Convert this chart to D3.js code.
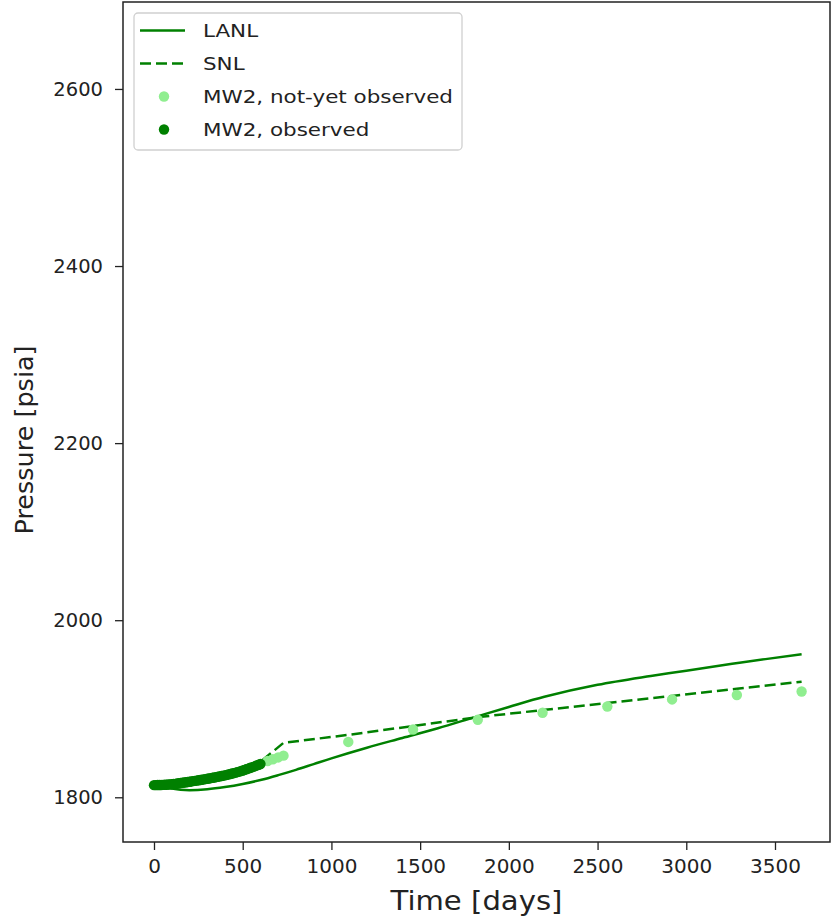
<!DOCTYPE html>
<html>
<head>
<meta charset="utf-8">
<script src="https://cdn.jsdelivr.net/npm/d3@7"></script>
<style>
  body { margin: 0; background: #fff; }
  text { font-family: "DejaVu Sans", sans-serif; fill: #222; }
</style>
</head>
<body>
<svg id="chart" width="832" height="923"></svg>
<script>
// LANL simulation (solid)
const lanlDays = [0, 50, 100, 150, 200, 300, 400, 500, 600, 700, 800, 900, 1000, 1200, 1400, 1600, 1800, 2000, 2200, 2500, 2800, 3000, 3300, 3650];
const lanlPsia = [1814, 1812, 1810, 1808.5, 1808, 1809, 1811.5, 1815, 1819.5, 1825, 1831, 1837.5, 1844, 1856, 1867, 1878, 1890, 1902, 1913.5, 1927, 1937, 1943, 1952, 1961.5];

// SNL simulation (dashed)
const snlDays = [0, 100, 200, 300, 400, 500, 600, 730, 1095, 1460, 1825, 2190, 2555, 2920, 3285, 3650];
const snlPsia = [1814, 1815.5, 1818.5, 1822, 1826, 1831, 1840, 1861.5, 1870.5, 1880.5, 1890.5, 1898.5, 1906.5, 1914.5, 1922.5, 1930.5];

// MW2 observed (dark dots)
const obsDays = [0, 10, 20, 30, 40, 50, 60, 70, 80, 90, 100, 110, 120, 130, 140, 150, 160, 170, 180, 190,
  200, 210, 220, 230, 240, 250, 260, 270, 280, 290, 300, 310, 320, 330, 340, 350, 360, 370, 380, 390,
  400, 410, 420, 430, 440, 450, 460, 470, 480, 490, 500, 510, 520, 530, 540, 550, 560, 570, 580, 590, 600];
const obsPsia = [1813.7, 1813.7, 1813.8, 1813.8, 1813.9, 1814.0, 1814.1, 1814.2, 1814.4, 1814.6,
  1814.8, 1815.0, 1815.2, 1815.5, 1815.8, 1816.1, 1816.4, 1816.7, 1817.0, 1817.3,
  1817.6, 1817.9, 1818.2, 1818.5, 1818.8, 1819.2, 1819.5, 1819.8, 1820.2, 1820.5,
  1820.9, 1821.2, 1821.6, 1822.0, 1822.4, 1822.8, 1823.2, 1823.6, 1824.0, 1824.4,
  1824.8, 1825.3, 1825.8, 1826.3, 1826.8, 1827.3, 1827.8, 1828.4, 1829.0, 1829.6,
  1830.2, 1830.9, 1831.6, 1832.3, 1833.0, 1833.7, 1834.4, 1835.2, 1836.0, 1836.8, 1837.6];

// MW2 not-yet observed (light dots)
const futDays = [640, 670, 700, 730, 1095, 1460, 1825, 2190, 2555, 2920, 3285, 3650];
const futPsia = [1841, 1843, 1845, 1847, 1862.5, 1876.5, 1887.5, 1895.5, 1902.5, 1910.5, 1915.5, 1919.5];

const xTicks = [0, 500, 1000, 1500, 2000, 2500, 3000, 3500];
const yTicks = [1800, 2000, 2200, 2400, 2600];

const legendLabels = ['LANL', 'SNL', 'MW2, not-yet observed', 'MW2, observed'];

const zip = (xs, ys) => xs.map((d, i) => ({ t: d, p: ys[i] }));

const svg = d3.select('#chart');
const margin = { top: 2, right: 2, bottom: 81, left: 123 };
const width = 832, height = 923;

const x = d3.scaleLinear()
  .domain([-174.7, 3810])
  .range([margin.left, width - margin.right]);

const y = d3.scaleLinear()
  .domain([1749.5, 2698.2])
  .range([height - margin.bottom, margin.top]);

const green = '#008000';
const light = '#90ee90';
const lw = 2.5;
const dash = '11,5';

// Clip to the axes area
svg.append('defs').append('clipPath')
  .attr('id', 'plot-area')
  .append('rect')
  .attr('x', margin.left)
  .attr('y', margin.top)
  .attr('width', width - margin.left - margin.right)
  .attr('height', height - margin.top - margin.bottom);

const plot = svg.append('g').attr('clip-path', 'url(#plot-area)');

plot.append('path')
  .datum(zip(lanlDays, lanlPsia))
  .attr('fill', 'none')
  .attr('stroke', green)
  .attr('stroke-width', lw)
  .attr('d', d3.line().x(d => x(d.t)).y(d => y(d.p)).curve(d3.curveCatmullRom.alpha(0.5)));

plot.append('path')
  .datum(zip(snlDays, snlPsia))
  .attr('fill', 'none')
  .attr('stroke', green)
  .attr('stroke-width', lw)
  .attr('stroke-dasharray', dash)
  .attr('d', d3.line().x(d => x(d.t)).y(d => y(d.p)));

plot.selectAll('circle.fut')
  .data(zip(futDays, futPsia))
  .join('circle')
  .attr('class', 'fut')
  .attr('cx', d => x(d.t))
  .attr('cy', d => y(d.p))
  .attr('r', 5.2)
  .attr('fill', light);

plot.selectAll('circle.obs')
  .data(zip(obsDays, obsPsia))
  .join('circle')
  .attr('class', 'obs')
  .attr('cx', d => x(d.t))
  .attr('cy', d => y(d.p))
  .attr('r', 5.2)
  .attr('fill', green);

// Axes
const xAxis = svg.append('g')
  .attr('transform', `translate(0,${height - margin.bottom})`)
  .call(d3.axisBottom(x).tickValues(xTicks).tickFormat(d3.format('d'))
    .tickSize(8).tickPadding(9).tickSizeOuter(0));
xAxis.select('.domain').remove();
xAxis.selectAll('line').attr('stroke', '#222').attr('stroke-width', 1.3);
xAxis.selectAll('text')
  .attr('font-size', 20)
  .attr('font-family', '"DejaVu Sans", sans-serif')
  .attr('fill', '#222');

const yAxis = svg.append('g')
  .attr('transform', `translate(${margin.left},0)`)
  .call(d3.axisLeft(y).tickValues(yTicks).tickFormat(d3.format('d'))
    .tickSize(8).tickPadding(12).tickSizeOuter(0));
yAxis.select('.domain').remove();
yAxis.selectAll('line').attr('stroke', '#222').attr('stroke-width', 1.3);
yAxis.selectAll('text')
  .attr('font-size', 19.5)
  .attr('font-family', '"DejaVu Sans", sans-serif')
  .attr('fill', '#222');

// Frame
svg.append('rect')
  .attr('x', margin.left)
  .attr('y', margin.top)
  .attr('width', width - margin.left - margin.right)
  .attr('height', height - margin.top - margin.bottom)
  .attr('fill', 'none')
  .attr('stroke', '#222')
  .attr('stroke-width', 1.5);

// Axis titles
svg.append('g')
  .attr('transform', `translate(${(margin.left + width - margin.right) / 2},910) scale(1.12,1)`)
  .append('text')
  .attr('text-anchor', 'middle')
  .attr('font-size', 26)
  .text('Time [days]');

svg.append('text')
  .attr('transform', `translate(33,${(margin.top + height - margin.bottom) / 2 + 18}) rotate(-90)`)
  .attr('text-anchor', 'middle')
  .attr('font-size', 25.5)
  .text('Pressure [psia]');

// Legend
const legend = svg.append('g').attr('transform', 'translate(134,13)');
legend.append('rect')
  .attr('width', 328)
  .attr('height', 137)
  .attr('rx', 4)
  .attr('fill', 'rgba(255,255,255,0.8)')
  .attr('stroke', '#d0d0d0')
  .attr('stroke-width', 1.3);

const rowY = i => 17.5 + i * 33;
legendLabels.forEach((label, i) => {
  const g = legend.append('g').attr('transform', `translate(0,${rowY(i)})`);
  if (i === 0) {
    g.append('line').attr('x1', 6).attr('x2', 51).attr('stroke', green).attr('stroke-width', lw);
  } else if (i === 1) {
    g.append('line').attr('x1', 6).attr('x2', 51).attr('stroke', green).attr('stroke-width', lw)
      .attr('stroke-dasharray', dash);
  } else {
    g.append('circle').attr('cx', 30).attr('r', 5.2).attr('fill', i === 2 ? light : green);
  }
  g.append('g')
    .attr('transform', 'translate(69,0) scale(1.16,1)')
    .append('text')
    .attr('dy', '0.36em')
    .attr('font-size', 18.5)
    .text(label);
});
</script>
</body>
</html>
